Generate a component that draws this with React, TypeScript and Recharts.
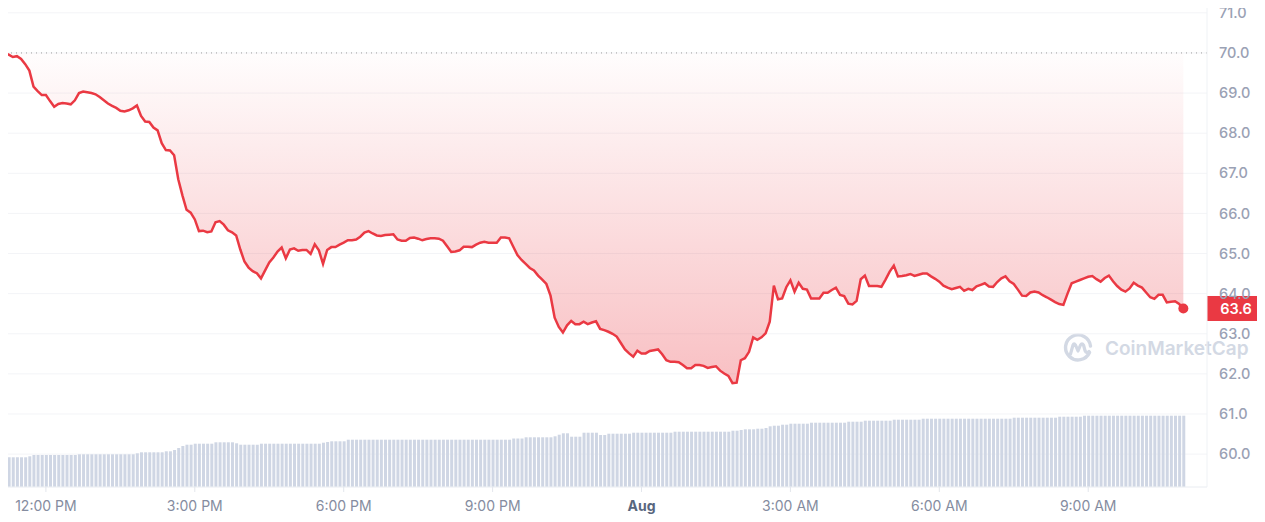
import {
  Area,
  Bar,
  CartesianGrid,
  ComposedChart,
  Line,
  ReferenceDot,
  ReferenceLine,
  XAxis,
  YAxis,
} from "recharts";

// 5-minute candles, starting 11:05 AM
const STEP_MIN = 5;
const OPEN_PRICE = 70;

const prices = [
  70.01, 70.0, 69.96, 69.9, 69.92, 69.85, 69.72, 69.56, 69.16, 69.05,
  68.95, 68.95, 68.8, 68.66, 68.73, 68.75, 68.74, 68.72, 68.82, 69.0,
  69.04, 69.02, 69.0, 68.97, 68.9, 68.82, 68.74, 68.68, 68.63, 68.56,
  68.54, 68.57, 68.62, 68.69, 68.43, 68.29, 68.28, 68.14, 68.07, 67.75,
  67.58, 67.57, 67.45, 66.85, 66.45, 66.09, 66.02, 65.85, 65.56, 65.57,
  65.53, 65.55, 65.78, 65.81, 65.72, 65.58, 65.53, 65.45, 65.1, 64.8,
  64.65, 64.56, 64.51, 64.38, 64.58, 64.78, 64.9, 65.05, 65.15, 64.88,
  65.1, 65.13, 65.07, 65.09, 65.09, 64.99, 65.23, 65.08, 64.74, 65.09,
  65.16, 65.16, 65.22, 65.27, 65.33, 65.33, 65.35, 65.42, 65.52, 65.56,
  65.5, 65.45, 65.44, 65.46, 65.47, 65.48, 65.35, 65.32, 65.32, 65.39,
  65.4, 65.37, 65.33, 65.36, 65.38, 65.38, 65.37, 65.32, 65.18, 65.04,
  65.05, 65.08, 65.17, 65.17, 65.16, 65.22, 65.27, 65.29, 65.27, 65.27,
  65.27, 65.4, 65.4, 65.38, 65.17, 64.96, 64.84, 64.74, 64.64, 64.58,
  64.45, 64.35, 64.24, 63.95, 63.4, 63.17, 63.03, 63.21, 63.32, 63.24,
  63.24, 63.3, 63.24, 63.28, 63.31, 63.12, 63.09, 63.05, 63.0, 62.93,
  62.77, 62.61, 62.51, 62.43, 62.58, 62.51, 62.51, 62.57, 62.59, 62.61,
  62.49, 62.34, 62.3, 62.3, 62.29, 62.22, 62.14, 62.14, 62.22, 62.22,
  62.2, 62.15, 62.17, 62.19, 62.08, 62.01, 61.95, 61.77, 61.78, 62.34,
  62.39, 62.55, 62.91, 62.85, 62.91, 63.01, 63.3, 64.2, 63.86, 63.88,
  64.16, 64.33, 64.05, 64.27, 64.12, 64.1, 63.88, 63.88, 63.88, 64.02,
  64.02, 64.09, 64.15, 63.97, 63.94, 63.75, 63.73, 63.82, 64.36, 64.45,
  64.19, 64.19, 64.19, 64.17, 64.35, 64.55, 64.7, 64.43, 64.44, 64.46,
  64.49, 64.44, 64.47, 64.5, 64.5, 64.43, 64.37, 64.3, 64.2, 64.15,
  64.11, 64.14, 64.17, 64.07, 64.12, 64.09, 64.18, 64.22, 64.26, 64.18,
  64.17, 64.29, 64.38, 64.43, 64.31, 64.24, 64.1, 63.95, 63.94, 64.03,
  64.05, 64.03, 63.96, 63.91, 63.85, 63.79, 63.74, 63.72, 64.0, 64.26,
  64.3, 64.34, 64.38, 64.42, 64.44, 64.36, 64.3, 64.39, 64.45, 64.31,
  64.19, 64.1, 64.05, 64.13, 64.27, 64.2, 64.15, 64.03, 63.91, 63.87,
  63.97, 63.97, 63.78, 63.8, 63.81, 63.74, 63.63,
];

// volume, arbitrary units (no scale shown)
const volumes = [
  297, 297, 297, 297, 297, 297, 297, 307,
  320, 320, 320, 320, 320, 320, 320, 320, 320, 320, 320,
  327, 327, 327, 327, 327, 327, 327, 327, 327, 327, 327, 327, 327, 327,
  337, 347, 347, 347, 347, 347, 347, 357, 357, 370, 390, 410, 423, 423,
  433, 433, 433, 433, 433, 447, 447, 447, 447, 447, 437, 423, 423, 423, 423, 423,
  433, 433, 433, 433, 433, 433, 433, 433, 433, 433, 433, 433, 433, 433, 433,
  443, 450, 457, 457, 457, 457,
  473, 473, 473, 473, 473, 473, 473, 473, 473, 473,
  473, 473, 473, 473, 473, 473, 473, 473, 473, 473,
  473, 473, 473, 473, 473, 473, 473, 473, 473, 473,
  473, 473, 473, 473, 473, 473, 473, 473, 473, 473,
  485, 485, 485, 497, 497, 497, 497, 497, 497, 497,
  507, 523, 537, 537, 503, 503, 503, 543, 543, 543, 543, 520, 520,
  533, 533, 533, 533, 533, 533,
  543, 543, 543, 543, 543, 543, 543, 543, 543, 543,
  553, 553, 553, 553, 553, 553, 553, 553, 553, 553, 553, 553, 553, 553,
  563, 563, 570, 577, 577, 577, 583, 583, 590, 607, 613, 613, 623, 623,
  633, 633, 633, 633, 633, 643, 643, 643, 643, 643, 643, 643, 643, 643,
  653, 653, 653, 653, 663, 663, 663, 663, 663, 663, 663, 673, 673, 673, 673, 673, 673, 673,
  683, 683, 683, 683, 683, 683, 683, 683, 683, 683, 683,
  683, 683, 683, 683, 683, 683, 683, 683, 683, 683, 683,
  693, 693, 693, 693, 693, 693, 693, 693, 693, 693, 693,
  703, 703, 703, 703, 703, 703,
  713, 713, 713, 713, 713, 713, 713, 713, 713, 713, 713, 713, 713,
  713, 713, 713, 713, 713, 713, 713, 713, 713, 713, 713, 713,
];

// minutes after 11:05 AM
const timeTicks = [55, 235, 415, 595, 775, 955, 1135, 1315];
const timeLabels = ["12:00 PM", "3:00 PM", "6:00 PM", "9:00 PM", "Aug", "3:00 AM", "6:00 AM", "9:00 AM"];
const priceTicks = [60, 61, 62, 63, 64, 65, 66, 67, 68, 69, 70, 71];

const Y_MIN = 59.18;
const Y_MAX = 71.32;
const X_MIN = -0.5;
const X_MAX = 1458.6;
const VOL_MAX = 4870;

const W = 1265;
const H = 522;
const AXIS_H = 35;
const AXIS_W = 58;
const PLOT_H = H - AXIS_H;

const RED = "#ea3943";
const GREEN = "#16c784";
const FONT = "Inter, 'Noto Sans', sans-serif";

const rows = prices.map((price, i) => ({
  t: i * STEP_MIN,
  price,
  volume: volumes[i],
}));
const last = rows[rows.length - 1];
const split = (Y_MAX - OPEN_PRICE) / (Y_MAX - Y_MIN);

function TimeTick(props: any) {
  const { x, y, payload } = props;
  const idx = timeTicks.indexOf(payload.value);
  const label = timeLabels[idx] ?? "";
  const isDay = label === "Aug";
  return (
    <text
      x={x}
      y={y}
      dy="0.71em"
      textAnchor="middle"
      fontFamily={FONT}
      fontSize={14}
      fontWeight={isDay ? 700 : 400}
      fill={isDay ? "#58667e" : "#858ca0"}
    >
      {label}
    </text>
  );
}

function PriceTag(props: any) {
  const vb = props.viewBox;
  if (!vb) return null;
  const x = vb.x + vb.width;
  const y = vb.y;
  return (
    <g>
      <rect x={x} y={y - 12.5} width={AXIS_W} height={25} fill={RED} />
      <text
        x={x + AXIS_W / 2}
        y={y}
        dy="0.36em"
        textAnchor="middle"
        fontFamily={FONT}
        fontSize={14.5}
        fontWeight={600}
        fill="#ffffff"
      >
        {last.price.toFixed(1)}
      </text>
    </g>
  );
}

function Watermark() {
  return (
    <div
      style={{
        position: "absolute",
        left: 1062,
        top: 332,
        display: "flex",
        alignItems: "center",
        gap: 11,
        color: "#d3d9e4",
        fontFamily: FONT,
        fontWeight: 600,
        fontSize: 19,
        pointerEvents: "none",
      }}
    >
      <svg width={32} height={32} viewBox="0 0 32 32">
        <path
          d="M27.5 20.5 A12.5 12.5 0 1 1 28.5 14"
          fill="none"
          stroke="#d3d9e4"
          strokeWidth={3.4}
          strokeLinecap="round"
        />
        <path
          d="M8.5 22 L11 13 Q12 10.5 13.5 13 L16 19 L18.5 13 Q20 10.5 21.5 13 L23 18.5 Q24.5 22 27 19.5"
          fill="none"
          stroke="#d3d9e4"
          strokeWidth={3.2}
          strokeLinecap="round"
          strokeLinejoin="round"
        />
      </svg>
      <span>CoinMarketCap</span>
    </div>
  );
}

export default function App() {
  return (
    <div style={{ position: "relative", margin: -8, width: W, height: H, background: "#fff" }}>
      <Watermark />
      <div style={{ position: "absolute", left: 0, top: 0 }}>
        <ComposedChart
          width={W}
          height={H}
          data={rows}
          margin={{ top: 0, right: 0, bottom: 0, left: 0 }}
        >
          <defs>
            <linearGradient id="priceFill" x1="0" y1="0" x2="0" y2="1">
              <stop offset="0%" stopColor={RED} stopOpacity={0.01} />
              <stop offset="100%" stopColor={RED} stopOpacity={0.32} />
            </linearGradient>
            <linearGradient
              id="priceStroke"
              x1="0"
              y1="0"
              x2="0"
              y2={PLOT_H}
              gradientUnits="userSpaceOnUse"
            >
              <stop offset={split} stopColor={GREEN} />
              <stop offset={split} stopColor={RED} />
            </linearGradient>
          </defs>
          <CartesianGrid yAxisId="price" vertical={false} stroke="#f3f4f7" />
          <XAxis
            dataKey="t"
            type="number"
            domain={[X_MIN, X_MAX]}
            allowDataOverflow
            ticks={timeTicks}
            interval={0}
            height={AXIS_H}
            tickSize={5}
            tickMargin={9}
            axisLine={{ stroke: "#eff2f5" }}
            tickLine={{ stroke: "#e3e6ec" }}
            tick={<TimeTick />}
          />
          <YAxis
            yAxisId="price"
            orientation="right"
            width={AXIS_W}
            domain={[Y_MIN, Y_MAX]}
            allowDataOverflow
            ticks={priceTicks}
            interval={0}
            tickFormatter={(v: number) => v.toFixed(1)}
            tickLine={false}
            tickMargin={6}
            axisLine={{ stroke: "#eff2f5" }}
            tick={{ fill: "#9aa1b4", fontSize: 14.5, fontWeight: 500, fontFamily: FONT }}
          />
          <YAxis yAxisId="vol" hide domain={[0, VOL_MAX]} />
          <Bar
            yAxisId="vol"
            dataKey="volume"
            fill="#cfd6e4"
            barSize={3}
            isAnimationActive={false}
          />
          <Area
            yAxisId="price"
            type="linear"
            dataKey="price"
            baseValue={OPEN_PRICE}
            stroke="none"
            fill="url(#priceFill)"
            fillOpacity={1}
            isAnimationActive={false}
          />
          <ReferenceLine
            yAxisId="price"
            y={OPEN_PRICE}
            stroke="#9e9e9e"
            strokeDasharray="1 4"
          />
          <Line
            yAxisId="price"
            type="linear"
            dataKey="price"
            stroke="url(#priceStroke)"
            strokeWidth={2.5}
            dot={false}
            activeDot={false}
            isAnimationActive={false}
          />
          <ReferenceDot
            yAxisId="price"
            x={last.t}
            y={last.price}
            r={5}
            fill={RED}
            stroke="none"
          />
          <ReferenceLine
            yAxisId="price"
            y={last.price}
            stroke="none"
            label={<PriceTag />}
          />
        </ComposedChart>
      </div>
    </div>
  );
}
